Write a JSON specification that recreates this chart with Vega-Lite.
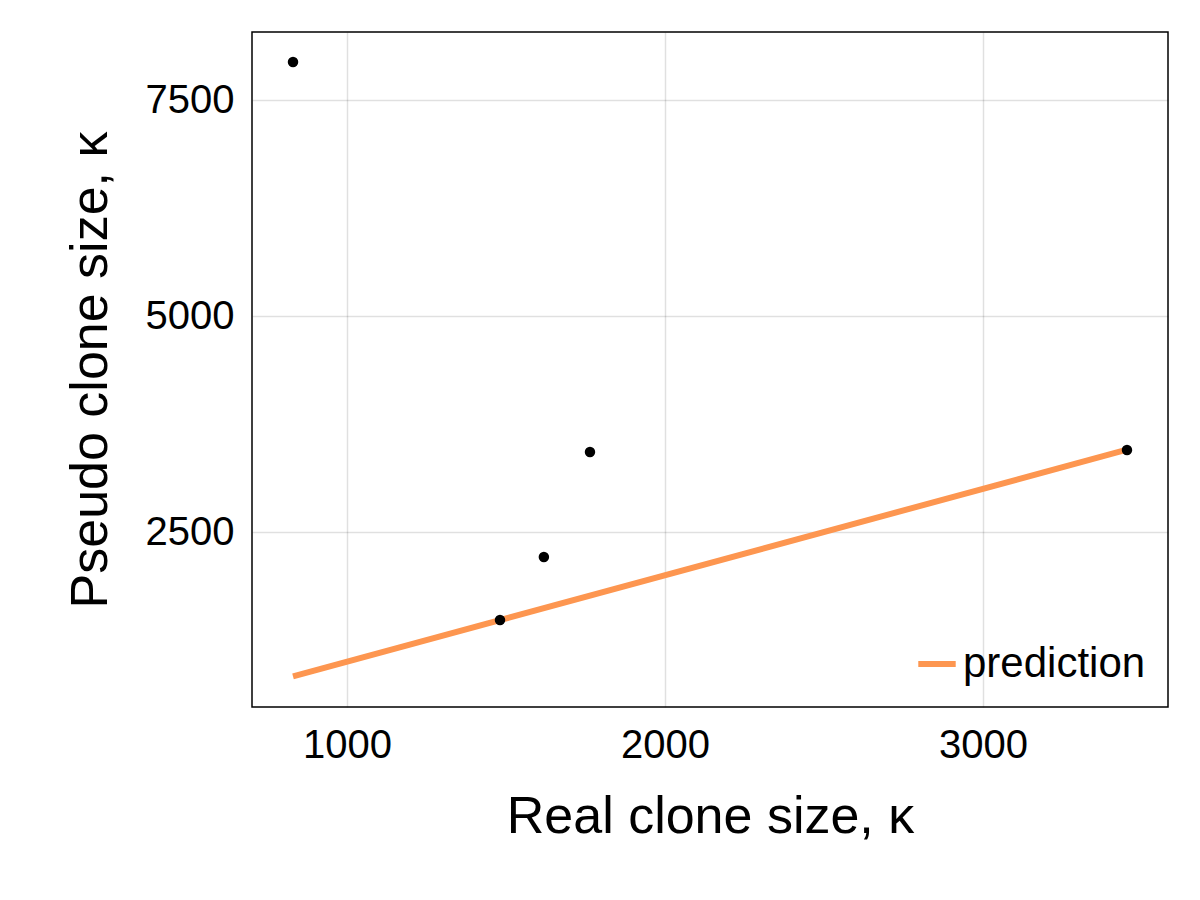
{
  "$schema": "https://vega.github.io/schema/vega-lite/v6.json",
  "width": 916,
  "height": 675,
  "autosize": "none",
  "padding": {"left": 252, "top": 32, "right": 32, "bottom": 193},
  "background": "white",
  "config": {
    "font": "Liberation Sans",
    "view": {"stroke": "black", "strokeWidth": 1.5},
    "axis": {"ticks": false, "domain": false, "gridColor": "#000", "gridOpacity": 0.12, "gridWidth": 1.5, "labelFontSize": 40, "titleFontSize": 52, "titleFontWeight": "normal", "labelColor": "black", "titleColor": "black", "format": "d"}
  },
  "datasets": {
    "pts": [
      {"real": 830, "pseudo": 7940},
      {"real": 1481, "pseudo": 1481},
      {"real": 1619, "pseudo": 2211},
      {"real": 1764, "pseudo": 3426},
      {"real": 3453, "pseudo": 3449}
    ],
    "pred": [
      {"real": 830, "pseudo": 830, "series": "prediction"},
      {"real": 3453, "pseudo": 3453, "series": "prediction"}
    ]
  },
  "layer": [
    {
      "data": {"name": "pred"},
      "mark": {"type": "line", "strokeWidth": 6, "clip": true},
      "encoding": {
        "x": {"field": "real", "type": "quantitative"},
        "y": {"field": "pseudo", "type": "quantitative"},
        "color": {"field": "series", "type": "nominal", "scale": {"range": ["#fd9650"]},
          "legend": {"title": null, "orient": "bottom-right", "symbolType": "stroke", "symbolStrokeWidth": 6, "symbolSize": 1400, "labelFontSize": 42, "labelLimit": 400, "labelColor": "black", "offset": 22}}
      }
    },
    {
      "data": {"name": "pts"},
      "mark": {"type": "circle", "color": "black", "opacity": 1, "size": 110},
      "encoding": {
        "x": {"field": "real", "type": "quantitative", "title": "Real clone size, κ",
          "scale": {"domain": [701, 3582], "nice": false, "zero": false},
          "axis": {"values": [1000, 2000, 3000], "titlePadding": 26, "labelPadding": 18}},
        "y": {"field": "pseudo", "type": "quantitative", "title": "Pseudo clone size, κ",
          "scale": {"domain": [475, 8287], "nice": false, "zero": false},
          "axis": {"values": [2500, 5000, 7500], "titlePadding": 28, "labelPadding": 18}}
      }
    }
  ]
}
